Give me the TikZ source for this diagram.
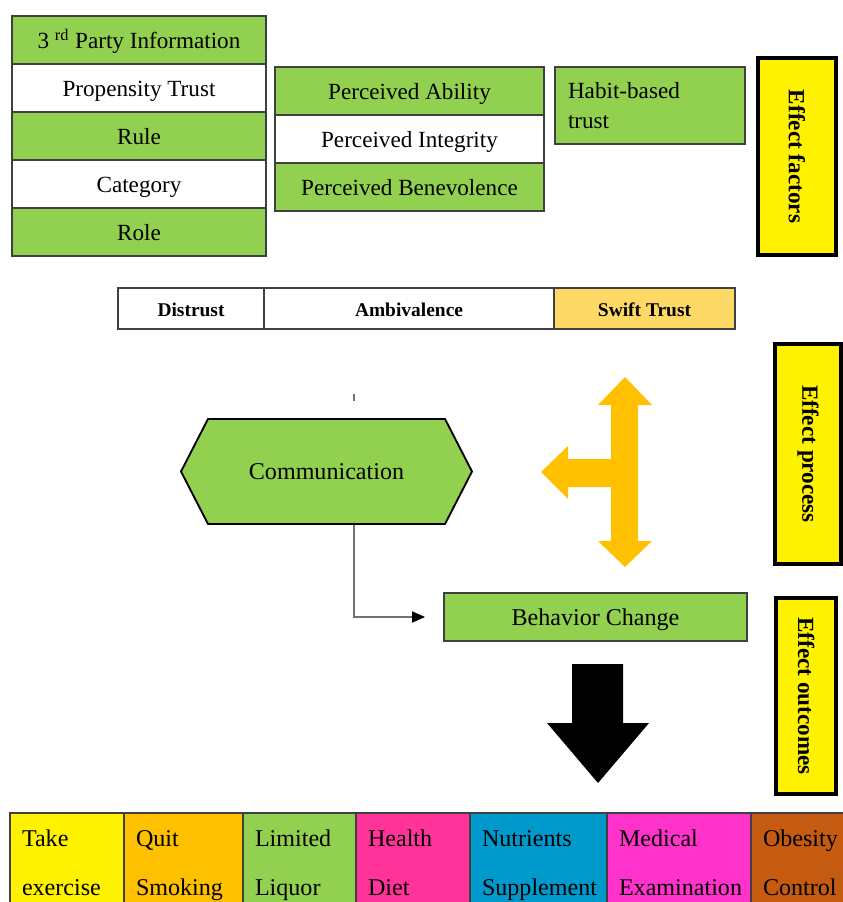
\documentclass[tikz,border=0pt]{standalone}
\usepackage{fontspec}
\setmainfont{Liberation Serif}
\usetikzlibrary{positioning, arrows.meta, shapes.symbols}

\newcommand\pxu{0.54pt}
\newcommand\lstrut{\vphantom{Ay}}
\definecolor{leafgreen}{HTML}{92D050}
\definecolor{swiftgold}{HTML}{FFD966}
\definecolor{amber}{HTML}{FFC000}
\definecolor{hotpink}{HTML}{FF3399}
\definecolor{skyblue}{HTML}{0099CC}
\definecolor{orchid}{HTML}{FF33CC}
\definecolor{rust}{HTML}{C55A11}

\begin{document}
\begin{tikzpicture}[x=\pxu, y=-\pxu, node distance=0pt,
    box/.style={draw=black!75, line width=0.6pt, outer sep=0pt, inner sep=0pt,
      font=\fontsize{12.5}{15}\selectfont},
    cell/.style={box, text height=0.9em, text depth=0pt},
    leftcell/.style={cell, minimum width=254*\pxu, minimum height=48*\pxu},
    midcell/.style={cell, minimum width=269*\pxu, minimum height=48*\pxu},
    scale cell/.style={cell, minimum height=41*\pxu, font=\fontsize{10.5}{12}\selectfont\bfseries},
    effect/.style={draw=black, line width=2.2pt, fill=yellow, rotate=-90, inner sep=0pt,
      font=\fontsize{12.5}{15}\selectfont\bfseries},
    outcome/.style={box, minimum height=105*\pxu, align=left, inner xsep=12*\pxu,
      font=\fontsize{13}{26.5}\selectfont},
    link/.style={draw=black!55, line width=0.7pt}]

  \useasboundingbox (0,0) rectangle (842,902);

  % factors
  \node[leftcell, fill=leafgreen, anchor=north west] (party) at (12,16) {3 \textsuperscript{rd} Party Information};
  \node[leftcell] (propensity) [below=of party] {Propensity Trust};
  \node[leftcell, fill=leafgreen] (rule) [below=of propensity] {Rule};
  \node[leftcell] (category) [below=of rule] {Category};
  \node[leftcell, fill=leafgreen] (role) [below=of category] {Role};

  \node[midcell, fill=leafgreen, anchor=north west] (ability) at (275,67) {Perceived Ability};
  \node[midcell] (integrity) [below=of ability] {Perceived Integrity};
  \node[midcell, fill=leafgreen] (benevolence) [below=of integrity] {Perceived Benevolence};

  \node[box, fill=leafgreen, anchor=north west, minimum width=190*\pxu, minimum height=77*\pxu,
    text width=164*\pxu, align=left, font=\fontsize{12.5}{16.5}\selectfont] (habit) at (555,67)
    {Habit-based\\trust};

  \node[effect, minimum width=197*\pxu, minimum height=78*\pxu] (factors) at (797,156.5) {Effect factors};

  % trust scale
  \node[scale cell, anchor=north west, minimum width=146*\pxu] (distrust) at (118,288) {Distrust};
  \node[scale cell, minimum width=290*\pxu] (ambivalence) [right=of distrust] {Ambivalence};
  \node[scale cell, fill=swiftgold, minimum width=181*\pxu] (swift) [right=of ambivalence] {Swift Trust};

  % process
  \node[signal, signal to=west and east, signal pointer angle=125.6, draw=black, line width=1pt,
    fill=leafgreen, minimum width=291*\pxu, minimum height=105*\pxu,
    font=\fontsize{13}{15}\selectfont] (comm) at (326.5,471.5) {Communication};
  \node[cell, fill=leafgreen, anchor=north west, minimum width=303*\pxu, minimum height=48*\pxu,
    font=\fontsize{13}{15}\selectfont] (behav) at (444,593) {Behavior Change};

  \draw[link] ([xshift=27.5*\pxu, yshift=24*\pxu]comm.north) -- ++(0,7);
  \draw[link, -{Triangle[length=7pt, width=6pt, color=black]}, shorten >=19*\pxu]
    ([xshift=27.5*\pxu]comm.south) |- (behav.west);

  \fill[amber] (625,377) -- (652,405) -- (638,405) -- (638,541) -- (652,541) -- (625,567)
    -- (598,541) -- (611,541) -- (611,487) -- (568,487) -- (568,499) -- (541,472)
    -- (568,446) -- (568,459) -- (611,459) -- (611,405) -- (598,405) -- cycle;

  \node[effect, minimum width=220*\pxu, minimum height=66*\pxu] (process) at (808,454) {Effect process};

  % outcomes
  \fill[black] (572,664) -- (623,664) -- (623,723) -- (649,723) -- (598,783) -- (547,723)
    -- (572,723) -- cycle;

  \node[effect, minimum width=196*\pxu, minimum height=60*\pxu] (outcomes) at (806,696) {Effect outcomes};

  \node[outcome, fill=yellow, anchor=north west, text width=90*\pxu, minimum width=114*\pxu] (exercise) at (10,813) {Take\lstrut\\exercise\lstrut};
  \node[outcome, fill=amber, text width=95*\pxu, minimum width=119*\pxu] (smoking) [right=of exercise] {Quit\lstrut\\Smoking\lstrut};
  \node[outcome, fill=leafgreen, text width=89*\pxu, minimum width=113*\pxu] (liquor) [right=of smoking] {Limited\lstrut\\Liquor\lstrut};
  \node[outcome, fill=hotpink, text width=90*\pxu, minimum width=114*\pxu] (diet) [right=of liquor] {Health\lstrut\\Diet\lstrut};
  \node[outcome, fill=skyblue, text width=113*\pxu, minimum width=137*\pxu] (nutrients) [right=of diet] {Nutrients\lstrut\\Supplement\lstrut};
  \node[outcome, fill=orchid, text width=120*\pxu, minimum width=144*\pxu] (medical) [right=of nutrients] {Medical\lstrut\\Examination\lstrut};
  \node[outcome, fill=rust, text width=80*\pxu, minimum width=104*\pxu] (obesity) [right=of medical] {Obesity\lstrut\\Control\lstrut};
\end{tikzpicture}
\end{document}
